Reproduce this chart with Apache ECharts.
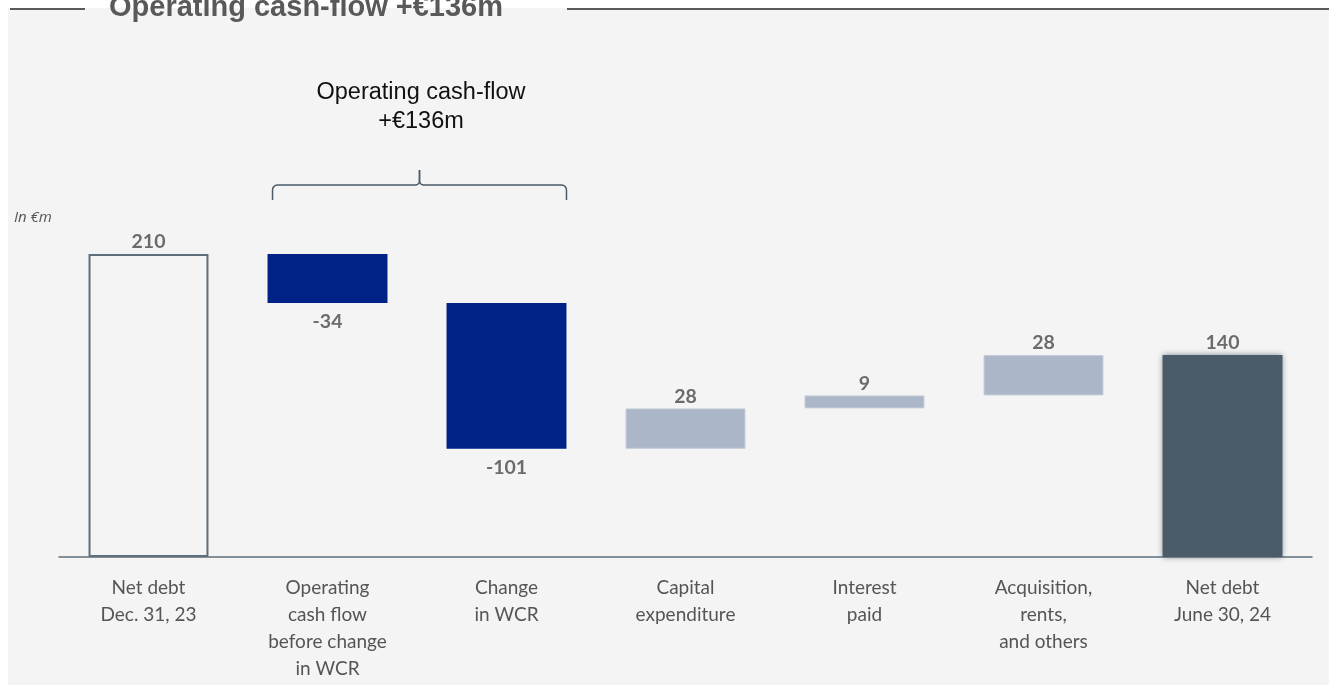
<!DOCTYPE html>
<html><head><meta charset="utf-8">
<script src="https://cdn.jsdelivr.net/npm/echarts@6/dist/echarts.min.js"></script>
<style>html,body{margin:0;padding:0;background:#fff;}#c{width:1329px;height:685px;}</style>
</head><body><div id="c"></div>
<script>
const categories = ['Net debt\nDec. 31, 23','Operating\ncash flow\nbefore change\nin WCR','Change\nin WCR','Capital\nexpenditure','Interest\npaid','Acquisition,\nrents,\nand others','Net debt\nJune 30, 24'];
const changes = [210, -34, -101, 28, 9, 28, 140];
const kinds = ['total','cash','cash','use','use','use','total'];
const labelSide = ['top','bottom','bottom','top','top','top','top'];
const titleText = 'Operating cash-flow +€136m';
const annotText = 'Operating cash-flow\n+€136m';
const unitText = 'In €m';

// build waterfall base / heights
const bases = [], heights = [];
let running = 0;
changes.forEach((v,i)=>{
  if (kinds[i]==='total'){ bases.push(0); heights.push(v); running = v; }
  else { const nv = running + v; bases.push(Math.min(running,nv)); heights.push(Math.abs(v)); running = nv; }
});
const styleFor = (i)=>{
  if (i===0) return {color:'#f4f4f4', borderColor:'#5e6e7b', borderWidth:2};
  if (kinds[i]==='cash') return {color:'#002287'};
  if (kinds[i]==='use') return {color:'#abb6c8', borderColor:'#c4ccd8', borderWidth:1};
  return {color:'#4b5b67', shadowBlur:6, shadowColor:'rgba(75,91,103,0.7)'};
};
const chart = echarts.init(document.getElementById('c'));
const lblFont = {fontFamily:'Lato, "Open Sans", sans-serif', fontWeight:'bold', fontSize:19.5, color:'#6b6b6b'};
chart.setOption({
  backgroundColor:'#fff',
  animation:false,
  grid:{left:59, right:17, top:196.3, bottom:128},
  xAxis:{type:'category', data:categories,
    axisLine:{lineStyle:{color:'#5e6e7b', width:1.5}}, axisTick:{show:false},
    axisLabel:{interval:0, margin:17, fontFamily:'Lato, "Open Sans", sans-serif', fontSize:19, color:'#555', lineHeight:27}},
  yAxis:{type:'value', min:0, max:250, show:false, splitLine:{show:false}},
  series:[
    {type:'bar', stack:'w', data:bases, itemStyle:{color:'transparent'}, barWidth:'67%', silent:true},
    {type:'bar', stack:'w', barWidth:'67%',
     data: heights.map((h,i)=>({value:h, itemStyle:styleFor(i),
        label:{show:true, position:labelSide[i], distance: labelSide[i]==='top'?2:9, formatter:String(changes[i]), ...lblFont}}))}
  ]
});
function drawGraphics(){
  const c1 = chart.convertToPixel({xAxisIndex:0}, 1);
  const c2 = chart.convertToPixel({xAxisIndex:0}, 2);
  const bw = (c2 - c1) * 0.67;
  const L = c1 - bw/2 + 5, R = c2 + bw/2;
  const M = (L+R)/2;
  const yH = 185, yB = 200, yT = 170;
  const arcPts = (cx, cy, r, a0, a1) => { const p=[]; for(let k=0;k<=6;k++){const a=a0+(a1-a0)*k/6; p.push([cx+r*Math.cos(a), cy+r*Math.sin(a)]);} return p; };
  const leftHalf = [[L,yB]].concat(arcPts(L+5, yH+5, 5, Math.PI, 1.5*Math.PI), arcPts(M-4, yH-4, 4, 0.5*Math.PI, 0), [[M,yT]]);
  const rightHalf = [[R,yB]].concat(arcPts(R-5, yH+5, 5, 0, -0.5*Math.PI), arcPts(M+4, yH-4, 4, 0.5*Math.PI, Math.PI), [[M,yT]]);
  chart.setOption({graphic:[
    {type:'rect', z:-10, silent:true, shape:{x:8,y:8,width:1329,height:685}, style:{fill:'#f4f4f4'}},
    {type:'line', shape:{x1:10,y1:9,x2:85,y2:9}, style:{stroke:'#5a5a5a', lineWidth:2}},
    {type:'line', shape:{x1:567,y1:9,x2:1329,y2:9}, style:{stroke:'#5a5a5a', lineWidth:2}},
    {type:'text', x:306, y:8, style:{text:titleText, font:'bold 29px "Liberation Sans", Arial, sans-serif', fill:'#595959', textAlign:'center', textVerticalAlign:'middle'}},
    {type:'text', x:421, y:107, style:{text:annotText, font:'23.5px "Liberation Sans", Arial, sans-serif', fill:'#111', textAlign:'center', textVerticalAlign:'middle', lineHeight:29}},
    {type:'polyline', shape:{points:leftHalf}, style:{stroke:'#4b5b67', lineWidth:1.5, fill:null}},
    {type:'polyline', shape:{points:rightHalf}, style:{stroke:'#4b5b67', lineWidth:1.5, fill:null}},
    {type:'text', x:14, y:218, style:{text:unitText, font:'italic 15px "Open Sans", sans-serif', fill:'#555', textVerticalAlign:'middle'}}
  ]});
}
drawGraphics();
</script></body></html>
